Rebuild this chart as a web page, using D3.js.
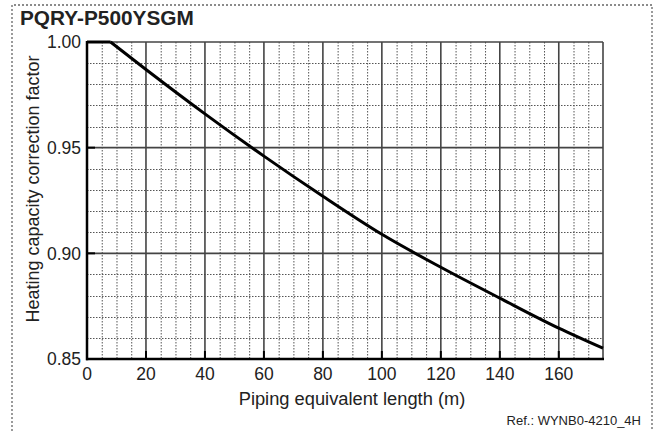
<!DOCTYPE html>
<html><head><meta charset="utf-8">
<script src="https://cdn.jsdelivr.net/npm/d3@7"></script>
<style>body{margin:0;background:#fff}svg{display:block}text{font-family:"Liberation Sans",Arial,Helvetica,sans-serif;fill:#222}</style>
</head><body><svg id="c" width="661" height="431"></svg>
<script>
const title = "PQRY-P500YSGM";
const xLabel = "Piping equivalent length (m)";
const yLabel = "Heating capacity correction factor";
const refText = "Ref.: WYNB0-4210_4H";
const lengths = [0, 8, 20, 40, 60, 80, 100, 120, 140, 160, 175];
const factors = [1.000, 1.000, 0.987, 0.966, 0.946, 0.927, 0.909, 0.8934, 0.8788, 0.8646, 0.8551];
const xTicks = [0, 20, 40, 60, 80, 100, 120, 140, 160];
const yTicks = [0.85, 0.90, 0.95, 1.00];

const svg = d3.select("#c");
const L = 87, R = 603, T = 42, B = 359;
const x = d3.scaleLinear().domain([0, 175]).range([L, R]);
const y = d3.scaleLinear().domain([0.85, 1.00]).range([B, T]);

// dotted frame
svg.append("path").attr("d", "M12,431 V5 H652 V431").attr("fill", "none")
  .attr("stroke", "#666").attr("stroke-width", 1.3).attr("stroke-dasharray", "2,2");

const g = svg.append("g");
// minor grid
const xMinor = d3.range(5, 175, 5).filter(v => v % 20 !== 0);
const yMinor = d3.range(0, 15).map(i => +(0.85 + i * 0.01).toFixed(2)).filter(v => Math.round(v * 100) % 5 !== 0);
g.selectAll(".xm").data(xMinor).enter().append("line")
  .attr("x1", d => x(d) + 0.5).attr("x2", d => x(d) + 0.5).attr("y1", T).attr("y2", B)
  .attr("stroke", "#555").attr("stroke-width", 1).attr("stroke-dasharray", "1.5,1.5");
g.selectAll(".ym").data(yMinor).enter().append("line")
  .attr("y1", d => Math.round(y(d)) + 0.5).attr("y2", d => Math.round(y(d)) + 0.5).attr("x1", L).attr("x2", R)
  .attr("stroke", "#555").attr("stroke-width", 1).attr("stroke-dasharray", "1.5,1.5");
// major grid
g.selectAll(".xM").data(xTicks.filter(d => d > 0)).enter().append("line")
  .attr("x1", d => x(d)).attr("x2", d => x(d)).attr("y1", T).attr("y2", B)
  .attr("stroke", "#444").attr("stroke-width", 1.6);
g.selectAll(".yM").data(yTicks.filter(d => d > 0.85)).enter().append("line")
  .attr("y1", d => y(d)).attr("y2", d => y(d)).attr("x1", L).attr("x2", R)
  .attr("stroke", "#444").attr("stroke-width", 1.6);
// right border
g.append("line").attr("x1", R).attr("x2", R).attr("y1", T).attr("y2", B).attr("stroke", "#444").attr("stroke-width", 1.6);

// inward ticks
g.selectAll(".xt").data(xTicks.filter(d => d > 0)).enter().append("line")
  .attr("x1", d => x(d)).attr("x2", d => x(d)).attr("y1", B).attr("y2", B - 8)
  .attr("stroke", "#000").attr("stroke-width", 2);
g.selectAll(".yt").data(yTicks.filter(d => d > 0.85)).enter().append("line")
  .attr("y1", d => y(d)).attr("y2", d => y(d)).attr("x1", L).attr("x2", L + 8)
  .attr("stroke", "#000").attr("stroke-width", 2);

// axes
g.append("line").attr("x1", L).attr("x2", L).attr("y1", T - 1).attr("y2", B + 1.2).attr("stroke", "#000").attr("stroke-width", 2.5);
g.append("line").attr("x1", L - 1).attr("x2", R + 1).attr("y1", B).attr("y2", B).attr("stroke", "#000").attr("stroke-width", 2.5);

// curve: flat part then smooth decline
const idx = d3.range(lengths.length);
const flat = d3.line().x(i => x(lengths[i])).y(i => y(factors[i]));
const decl = d3.line().x(i => x(lengths[i])).y(i => y(factors[i])).curve(d3.curveMonotoneX);
g.append("path").attr("d", flat(idx.slice(0, 2))).attr("fill", "none").attr("stroke", "#000").attr("stroke-width", 3);
g.append("path").attr("d", decl(idx.slice(1))).attr("fill", "none").attr("stroke", "#000").attr("stroke-width", 3).attr("stroke-linejoin", "round");

// tick labels
svg.selectAll(".xl").data(xTicks).enter().append("text")
  .attr("x", d => x(d)).attr("y", 380).attr("text-anchor", "middle").attr("font-size", 17.5).text(d => d);
svg.selectAll(".yl").data(yTicks).enter().append("text")
  .attr("x", 81).attr("y", d => y(d) + 6.2).attr("text-anchor", "end").attr("font-size", 17.5).text(d => d.toFixed(2));

// titles
svg.append("text").attr("x", 20).attr("y", 25).attr("font-size", 20.8).attr("font-weight", "bold").text(title);
svg.append("text").attr("x", 352).attr("y", 405).attr("text-anchor", "middle").attr("font-size", 18.3).text(xLabel);
svg.append("text").attr("transform", "translate(38.5,189) rotate(-90)").attr("text-anchor", "middle").attr("font-size", 18).text(yLabel);
svg.append("text").attr("x", 641).attr("y", 425).attr("text-anchor", "end").attr("font-size", 13).attr("fill", "#333").text(refText);
</script></body></html>
